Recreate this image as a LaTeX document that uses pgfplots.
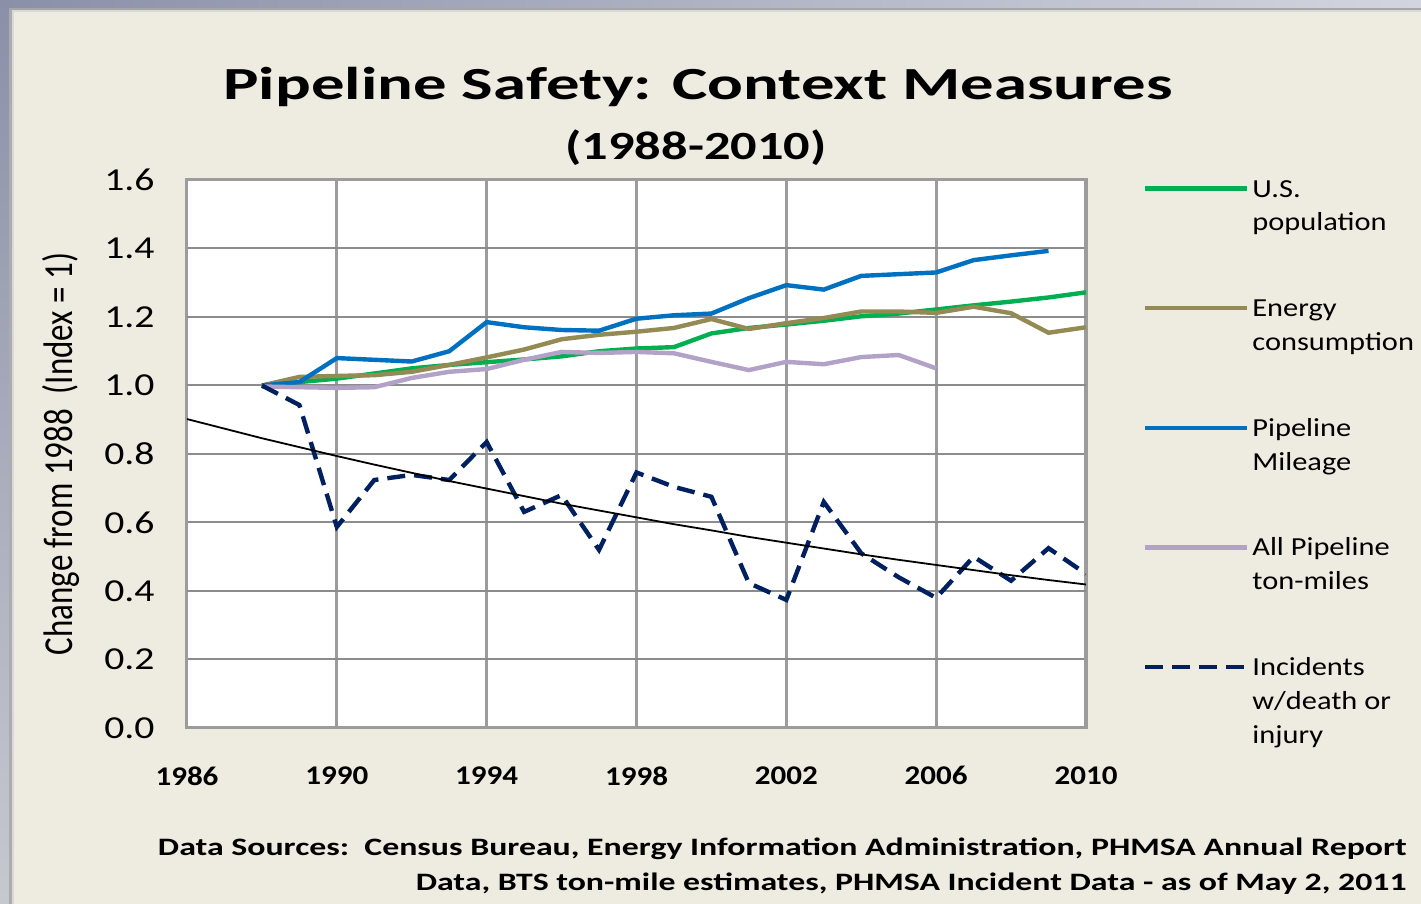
\documentclass[border=0pt]{standalone}
\usepackage{fontspec}
\setmainfont{Carlito}
\newfontfamily\titlefont{Carlito}[FakeStretch=1.45]
\newfontfamily\subfont{Carlito}[FakeStretch=1.31]
\newfontfamily\legfont{Carlito}[FakeStretch=1.17]
\newfontfamily\ytfont{Carlito}[FakeStretch=1.24]
\newfontfamily\xtfont{Carlito}[FakeStretch=1.15]
\newfontfamily\notefont{Carlito}[FakeStretch=1.35]
\newfontfamily\plainfont{Carlito}
\usepackage{pgfplots}
\pgfplotsset{compat=1.18}
\definecolor{bgc}{HTML}{EEECE1}
\definecolor{frameblue}{HTML}{8A90A8}
\definecolor{framelight}{HTML}{D3D5DE}
\definecolor{popc}{HTML}{00B050}
\definecolor{enc}{HTML}{948A54}
\definecolor{milc}{HTML}{0070C0}
\definecolor{tonc}{HTML}{B3A2C7}
\definecolor{incc}{HTML}{002060}
\definecolor{gridd}{HTML}{8C8C8C}
\definecolor{gridv}{HTML}{9C9C9C}
\definecolor{gridl}{HTML}{C0C0C0}
\newcommand\leg[1]{\parbox[t][59.9pt][t]{100pt}{\strut#1}}

\pgfplotstableread{
year pop
1988 1.000
1989 1.010
1990 1.020
1991 1.035
1992 1.050
1993 1.060
1994 1.068
1995 1.076
1996 1.085
1997 1.100
1998 1.108
1999 1.112
2000 1.152
2001 1.168
2002 1.178
2003 1.189
2004 1.202
2005 1.210
2006 1.222
2007 1.234
2008 1.245
2009 1.257
2010 1.272
}\poptable
\pgfplotstableread{
year energy
1988 1.000
1989 1.025
1990 1.028
1991 1.030
1992 1.040
1993 1.060
1994 1.082
1995 1.105
1996 1.135
1997 1.148
1998 1.157
1999 1.168
2000 1.194
2001 1.165
2002 1.182
2003 1.197
2004 1.216
2005 1.216
2006 1.212
2007 1.230
2008 1.211
2009 1.154
2010 1.170
}\entable
\pgfplotstableread{
year miles
1988 1.000
1989 1.010
1990 1.080
1991 1.075
1992 1.070
1993 1.100
1994 1.185
1995 1.170
1996 1.162
1997 1.160
1998 1.195
1999 1.205
2000 1.210
2001 1.255
2002 1.293
2003 1.280
2004 1.320
2005 1.325
2006 1.330
2007 1.366
2008 1.380
2009 1.393
}\miltable
\pgfplotstableread{
year ton
1988 0.997
1989 0.995
1990 0.993
1991 0.995
1992 1.022
1993 1.040
1994 1.048
1995 1.075
1996 1.098
1997 1.095
1998 1.098
1999 1.094
2000 1.069
2001 1.045
2002 1.069
2003 1.062
2004 1.083
2005 1.089
2006 1.050
}\tontable
\pgfplotstableread{
year inc
1988 1.000
1989 0.943
1990 0.587
1991 0.724
1992 0.739
1993 0.724
1994 0.835
1995 0.631
1996 0.680
1997 0.520
1998 0.746
1999 0.704
2000 0.675
2001 0.423
2002 0.374
2003 0.660
2004 0.510
2005 0.440
2006 0.380
2007 0.500
2008 0.430
2009 0.525
2010 0.450
}\inctable
\pgfplotstableread{
year trend
1986 0.902
1987 0.874
1988 0.846
1989 0.820
1990 0.794
1991 0.769
1992 0.745
1993 0.721
1994 0.699
1995 0.677
1996 0.655
1997 0.635
1998 0.615
1999 0.595
2000 0.577
2001 0.558
2002 0.541
2003 0.524
2004 0.507
2005 0.491
2006 0.476
2007 0.461
2008 0.446
2009 0.432
2010 0.419
}\trendtable

\begin{document}
\begin{tikzpicture}
% 1 px = 0.5pt ; x = (px-187)*0.5 ; y = (728-py)*0.5
\useasboundingbox (-93.5pt,-88pt) rectangle (617pt,364pt);
\fill[bgc] (-93.5pt,-88pt) rectangle (617pt,364pt);
\shade[left color=frameblue, right color=framelight] (-93.5pt,360pt) rectangle (617pt,364pt);
\fill[gray!70] (-89pt,359pt) rectangle (617pt,360pt);
\fill[gray!30] (-88pt,358pt) rectangle (617pt,359pt);
\shade[top color=frameblue, bottom color=framelight!85!gray] (-93.5pt,-88pt) rectangle (-89pt,364pt);
\fill[gray!65] (-89pt,-88pt) rectangle (-87.5pt,359pt);
\fill[gray!30] (-87.5pt,-88pt) rectangle (-86.5pt,358pt);

\node[anchor=base, inner sep=0pt] at (255.5pt,314pt) {\titlefont\bfseries\fontsize{23}{26}\selectfont Pipeline Safety: Context Measures};
\node[anchor=base, inner sep=0pt] at (254.5pt,284pt) {\subfont\bfseries\fontsize{20}{24}\selectfont (1988-2010)};
\node[anchor=base east, inner sep=0pt] at (610pt,-64pt) {\notefont\bfseries\fontsize{12.52}{14}\selectfont Data Sources:\ \ Census Bureau, Energy Information Administration, PHMSA Annual Report};
\node[anchor=base east, inner sep=0pt] at (610pt,-81.5pt) {\notefont\bfseries\fontsize{12.52}{14}\selectfont Data, BTS ton-mile estimates, PHMSA Incident Data - as of May 2, 2011};

\begin{axis}[
  at={(0pt,0pt)}, anchor=south west,
  scale only axis, width=449.5pt, height=274pt,
  xmin=1986, xmax=2010, ymin=0, ymax=1.6,
  xtick={1986,1990,...,2010},
  ytick={0,0.2,0.6,0.8,1.4,1.6},
  extra y ticks={0.4,1.0,1.2},
  extra y tick style={grid style={gridl, line width=2pt}},
  major tick length=0pt,
  grid=major,
  major grid style={gridd, line width=1pt},
  x grid style={gridv, line width=1.4pt},
  axis background/.style={fill=white},
  axis line style={draw=gridv, line width=1.5pt},
  /pgf/number format/assume math mode=true,
  xticklabel style={font=\xtfont\bfseries\fontsize{13.5}{14}\selectfont, anchor=north, inner sep=0pt, yshift=-19pt, /pgf/number format/1000 sep={}},
  yticklabel style={font=\ytfont\fontsize{16}{17}\selectfont, anchor=east, inner sep=0pt, xshift=-16pt, /pgf/number format/.cd, fixed, fixed zerofill, precision=1},
  every axis y label/.style={at={(axis description cs:-0.1407,0.5)}, rotate=90, anchor=center, font=\plainfont\fontsize{16.5}{17}\selectfont},
  ylabel={\scalebox{1}[1.25]{Change from 1988\ \ (Index = 1)}},
  legend cell align=left,
  legend image code/.code={\draw[#1] (0pt,4.2pt) -- (51pt,4.2pt);},
  legend style={at={(1.0634,1.0124)}, anchor=north west, draw=none, fill=none,
    inner sep=0pt, outer sep=0pt, column sep=1.5pt, row sep=46.4pt,
    font=\legfont\fontsize{13}{17}\selectfont,
    cells={anchor=base west}, nodes={inner sep=0pt}},
  every axis plot/.append style={line width=2.2pt},
]
\addplot[popc] table[x=year,y=pop] {\poptable};
\addlegendentry{\leg{U.S.\\population}}
\addplot[enc] table[x=year,y=energy] {\entable};
\addlegendentry{\leg{Energy\\consumption}}
\addplot[milc] table[x=year,y=miles] {\miltable};
\addlegendentry{\leg{Pipeline\\Mileage}}
\addplot[tonc] table[x=year,y=ton] {\tontable};
\addlegendentry{\leg{All Pipeline\\ton-miles}}
\addplot[incc, dash pattern=on 9pt off 4.5pt] table[x=year,y=inc] {\inctable};
\addlegendentry{\leg{Incidents\\w/death or\\injury}}
\addplot[black, line width=0.9pt, forget plot] table[x=year,y=trend] {\trendtable};
\end{axis}
\end{tikzpicture}
\end{document}
